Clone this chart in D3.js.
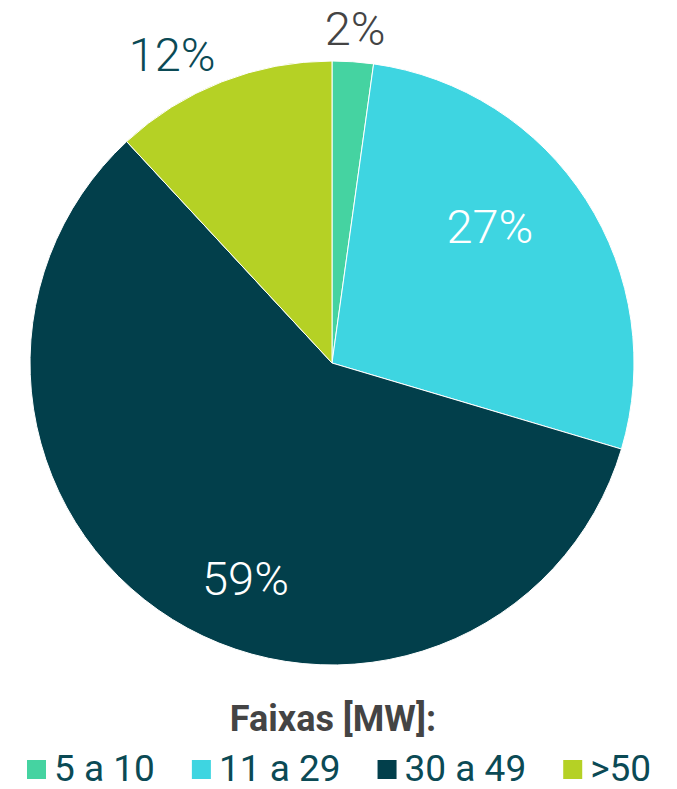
<!DOCTYPE html>
<html>
<head>
<meta charset="utf-8">
<script src="https://cdn.jsdelivr.net/npm/d3@7"></script>
<style>
  body { margin: 0; background: #fff; }
  svg { display: block; font-family: Roboto, "Noto Sans", sans-serif; }
</style>
</head>
<body>
<svg width="677" height="789"></svg>
<script>
var categories = ["5 a 10", "11 a 29", "30 a 49", ">50"];
var shares = [2.2, 27.4, 58.5, 11.9];
var colors = ["#45D3A1", "#3ED5E1", "#023F4B", "#B5D125"];
var legendTitle = "Faixas [MW]:";

var svg = d3.select("svg"),
    cx = 332, cy = 363, r = 302;

var pie = d3.pie().sort(null).value(function(d) { return d; });
var arcs = pie(shares);
var total = d3.sum(shares);

var arc = d3.arc().innerRadius(0).outerRadius(r);

var g = svg.append("g").attr("transform", "translate(" + cx + "," + cy + ")");

g.selectAll("path")
  .data(arcs)
  .enter().append("path")
  .attr("d", arc)
  .attr("fill", function(d, i) { return colors[i]; })
  .attr("stroke", "#fff")
  .attr("stroke-width", 1);

// label placement per slice: radius factor, angle nudge (deg), colour
var labelStyle = [
  { k: 1.11, da: 0, fill: "#444444" },
  { k: 0.69, da: -8, fill: "#ffffff" },
  { k: 0.77, da: -10, fill: "#ffffff" },
  { k: 1.15, da: -6, fill: "#0B4A55" }
];

g.selectAll("text.pct")
  .data(arcs)
  .enter().append("text")
  .attr("class", "pct")
  .attr("x", function(d, i) {
    var a = (d.startAngle + d.endAngle) / 2 + labelStyle[i].da * Math.PI / 180;
    return Math.sin(a) * r * labelStyle[i].k;
  })
  .attr("y", function(d, i) {
    var a = (d.startAngle + d.endAngle) / 2 + labelStyle[i].da * Math.PI / 180;
    return -Math.cos(a) * r * labelStyle[i].k;
  })
  .attr("dy", "0.35em")
  .attr("text-anchor", "middle")
  .attr("font-size", 47)
  .attr("font-weight", 300)
  .attr("fill", function(d, i) { return labelStyle[i].fill; })
  .text(function(d) { return Math.round(d.data / total * 100) + "%"; });

// legend
svg.append("text")
  .attr("x", 333)
  .attr("y", 731)
  .attr("text-anchor", "middle")
  .attr("font-size", 36)
  .attr("font-weight", 700)
  .attr("fill", "#444444")
  .text(legendTitle);

var legend = svg.append("g").attr("transform", "translate(0,781)");
var x = 27;
categories.forEach(function(c, i) {
  var item = legend.append("g").attr("transform", "translate(" + x + ",0)");
  item.append("rect")
    .attr("x", 0).attr("y", -21)
    .attr("width", 19).attr("height", 19)
    .attr("fill", colors[i]);
  var t = item.append("text")
    .attr("x", 27).attr("y", 0)
    .attr("font-size", 37)
    .attr("fill", "#0B4A55")
    .text(c);
  x += 27 + t.node().getComputedTextLength() + 37;
});
</script>
</body>
</html>
